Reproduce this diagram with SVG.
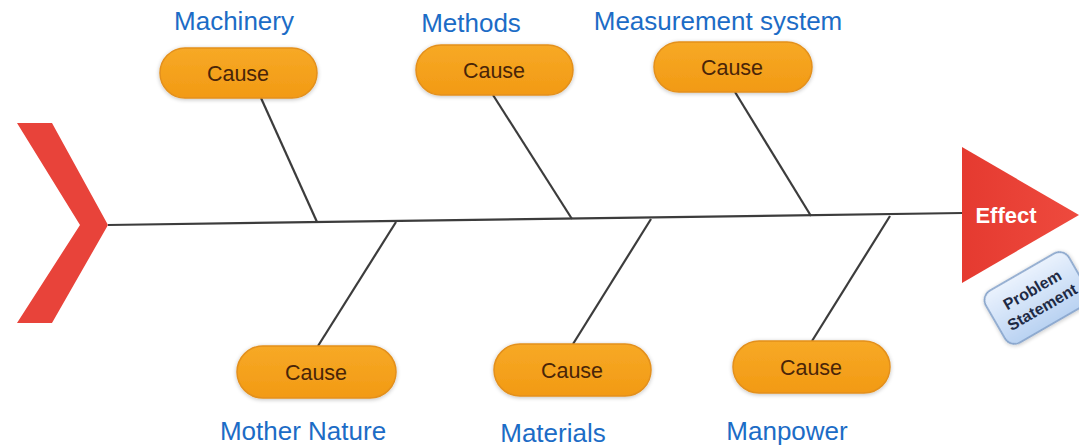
<svg xmlns="http://www.w3.org/2000/svg" width="1079" height="446" viewBox="0 0 1079 446">
<defs>
<style>
.lbl{font-family:"Liberation Sans",Arial,sans-serif;font-size:26px;fill:#1C6CC6;text-anchor:middle}
.box{fill:url(#og);stroke:#E3901C;stroke-width:1.5}
.ct{font-family:"Liberation Sans",Arial,sans-serif;font-size:21.5px;fill:#4A2508;text-anchor:middle}
.bone{stroke:#3C3C3C;stroke-width:2.2;fill:none}
.ps{font-family:"Liberation Sans",Arial,sans-serif;font-size:16px;font-weight:bold;fill:#1E2A44;text-anchor:middle}
</style>
<linearGradient id="og" x1="0" y1="0" x2="0" y2="1">
<stop offset="0" stop-color="#F7A926"/>
<stop offset="1" stop-color="#F29A14"/>
</linearGradient>
<linearGradient id="rg" x1="0" y1="0" x2="1" y2="0">
<stop offset="0" stop-color="#E53A30"/>
<stop offset="1" stop-color="#EE4A3E"/>
</linearGradient>
<linearGradient id="bg" x1="0" y1="0" x2="0" y2="1">
<stop offset="0" stop-color="#EAF2FD"/>
<stop offset="1" stop-color="#B9D2F2"/>
</linearGradient>
<filter id="sh" x="-10%" y="-20%" width="120%" height="140%">
<feGaussianBlur in="SourceAlpha" stdDeviation="2"/>
<feOffset dx="0" dy="1"/>
<feComponentTransfer><feFuncA type="linear" slope="0.25"/></feComponentTransfer>
<feMerge><feMergeNode/><feMergeNode in="SourceGraphic"/></feMerge>
</filter>
</defs>
<rect width="1079" height="446" fill="#FFFFFF"/>
<g id="connectors">
<line class="bone" x1="108" y1="225" x2="963" y2="213"/>
<line class="bone" x1="261" y1="98" x2="317" y2="222"/>
<line class="bone" x1="493" y1="95" x2="572" y2="219"/>
<line class="bone" x1="735" y1="92" x2="811" y2="216"/>
<line class="bone" x1="396" y1="222" x2="318" y2="346"/>
<line class="bone" x1="651" y1="219" x2="573" y2="344"/>
<line class="bone" x1="890" y1="216" x2="812" y2="341"/>
</g>
<g id="tail">
<polygon points="17,123 52,123 108,225 52,323 17,323 80,225" fill="#E8433A"/>
</g>
<g id="effect">
<polygon points="962,147 1079,215 962,283" fill="url(#rg)"/>
<text x="1006" y="223" font-family="'Liberation Sans',Arial,sans-serif" font-size="22" font-weight="bold" fill="#FFFFFF" text-anchor="middle">Effect</text>
</g>
<g id="problem" transform="translate(1037,298) rotate(-30)">
<rect x="-48" y="-30" width="96" height="60" rx="11" fill="url(#bg)" stroke="#7C9CC6" stroke-width="1.5" filter="url(#sh)"/>
<text class="ps" x="0" y="-4">Problem</text>
<text class="ps" x="0" y="16">Statement</text>
</g>
<g id="machinery">
<text class="lbl" x="234" y="30">Machinery</text>
<rect class="box" x="160" y="48" width="157" height="50" rx="25" filter="url(#sh)"/>
<text class="ct" x="238" y="81">Cause</text>
</g>
<g id="methods">
<text class="lbl" x="471" y="32">Methods</text>
<rect class="box" x="416" y="45" width="157" height="50" rx="25" filter="url(#sh)"/>
<text class="ct" x="494" y="78">Cause</text>
</g>
<g id="measurement">
<text class="lbl" x="718" y="30">Measurement system</text>
<rect class="box" x="654" y="42" width="158" height="50" rx="25" filter="url(#sh)"/>
<text class="ct" x="732" y="75">Cause</text>
</g>
<g id="mother-nature">
<rect class="box" x="237" y="346" width="159" height="52" rx="26" filter="url(#sh)"/>
<text class="ct" x="316" y="380">Cause</text>
<text class="lbl" x="303" y="440">Mother Nature</text>
</g>
<g id="materials">
<rect class="box" x="494" y="344" width="157" height="52" rx="26" filter="url(#sh)"/>
<text class="ct" x="572" y="378">Cause</text>
<text class="lbl" x="553" y="442">Materials</text>
</g>
<g id="manpower">
<rect class="box" x="733" y="341" width="157" height="52" rx="26" filter="url(#sh)"/>
<text class="ct" x="811" y="375">Cause</text>
<text class="lbl" x="787" y="440">Manpower</text>
</g>
</svg>
